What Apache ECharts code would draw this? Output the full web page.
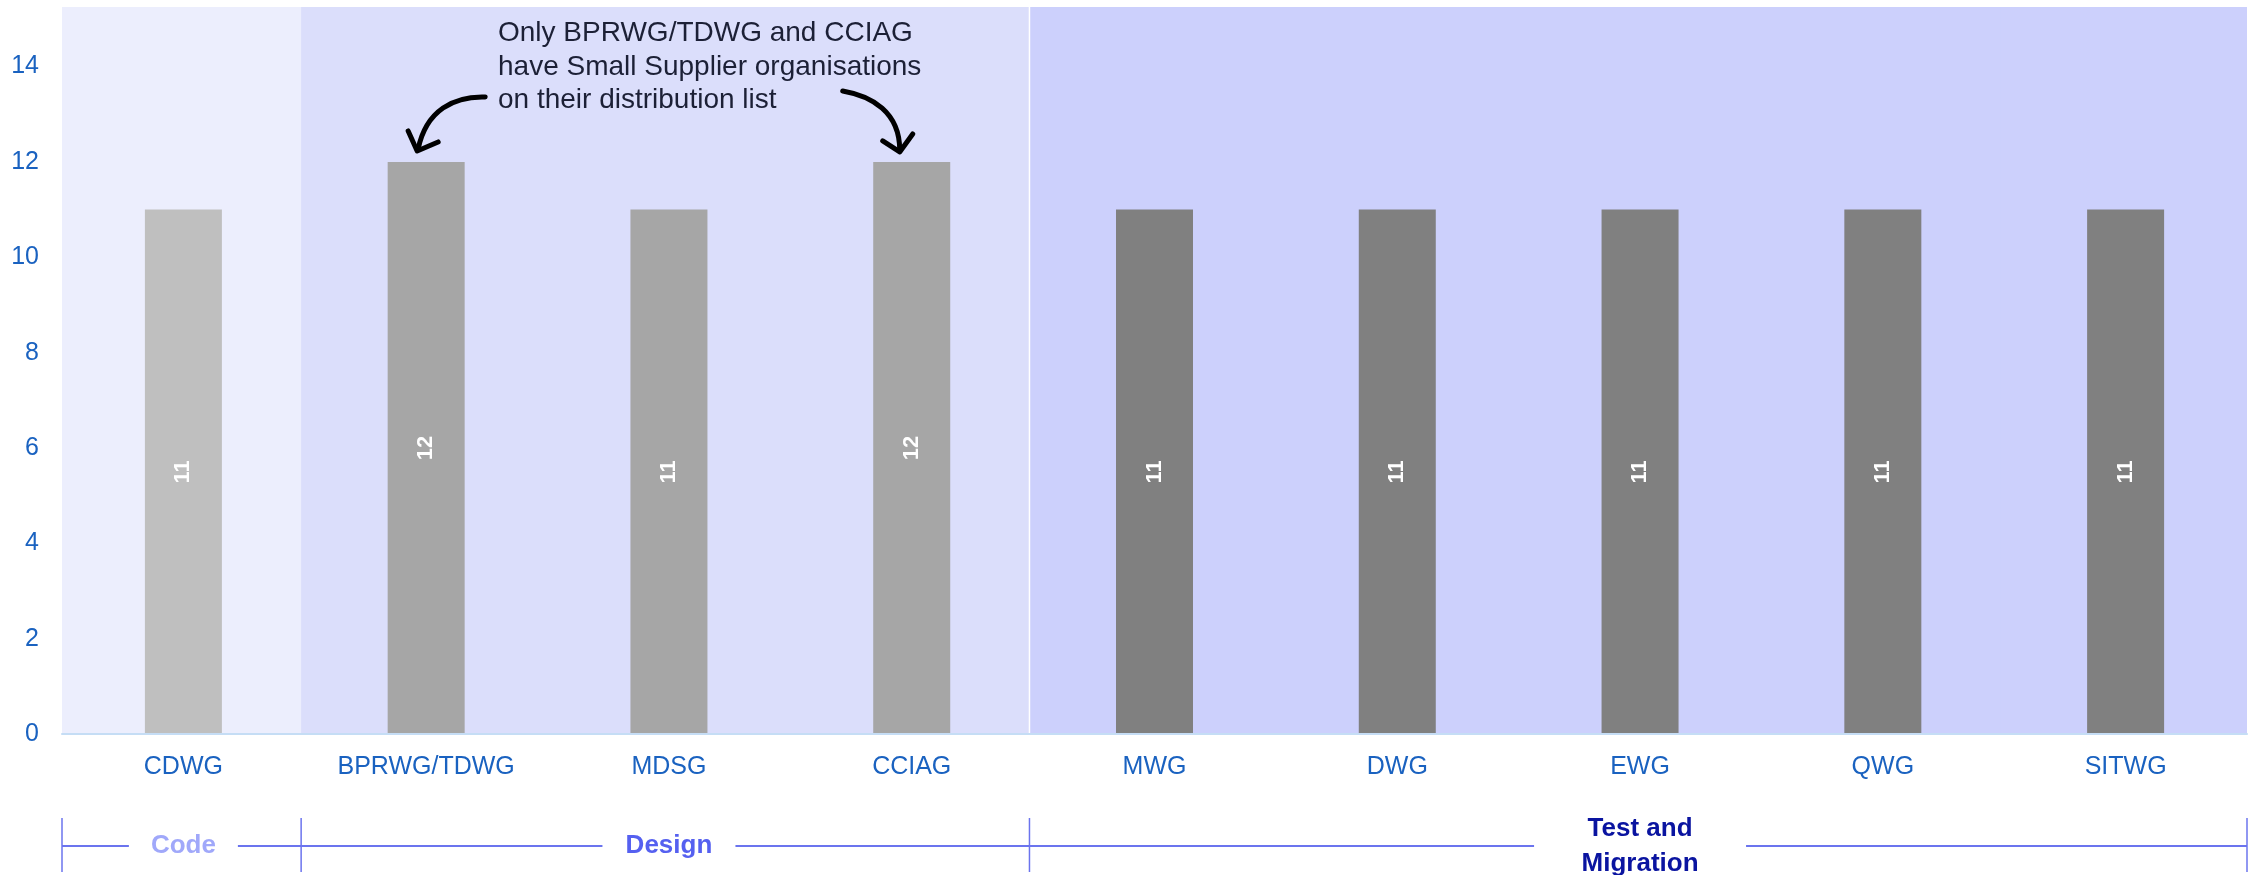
<!DOCTYPE html>
<html lang="en">
<head>
<meta charset="UTF-8">
<title>Working group distribution lists</title>
<style>
  html, body { margin: 0; padding: 0; background: #fff; }
  #main { width: 2252px; height: 875px; }
</style>
</head>
<body>
<div id="main"></div>
<script src="https://cdn.jsdelivr.net/npm/echarts@6/dist/echarts.min.js"></script>
<script>
// working groups and number of organisations on each distribution list
var groups = ['CDWG', 'BPRWG/TDWG', 'MDSG', 'CCIAG', 'MWG', 'DWG', 'EWG', 'QWG', 'SITWG'];
var counts = [11, 12, 11, 12, 11, 11, 11, 11, 11];
// phase each group belongs to
var phaseOf = [0, 1, 1, 1, 2, 2, 2, 2, 2];
var phases = ['Code', 'Design', 'Test and\nMigration'];
var yMax = 15.25;
var note = 'Only BPRWG/TDWG and CCIAG\nhave Small Supplier organisations\non their distribution list';
var notedGroups = ['BPRWG/TDWG', 'CCIAG'];

var barColors = ['#bfbfbf', '#a6a6a6', '#808080'];
var bandColors = ['#eceefd', '#dbdefb', '#ccd0fc'];
var phaseColors = ['#a0a8fa', '#5560f0', '#0a14a0'];
var gapWidths = [109, 133, 212];
var font = "'Liberation Sans', Arial, sans-serif";
var blue = '#1a62c0';
var bracketColor = '#6b74ee';
var bandOverlap = 0.015; // bands are drawn 3% wider so no seams show

var chart = echarts.init(document.getElementById('main'));

var option = {
  animation: false,
  backgroundColor: '#fff',
  textStyle: { fontFamily: font },
  grid: { left: 62, right: 5, top: 7, bottom: 141, outerBoundsMode: 'none' },
  xAxis: [
    {
      type: 'category',
      data: groups,
      axisLine: { lineStyle: { color: '#c5ddf5', width: 2 } },
      axisTick: { show: false },
      axisLabel: { color: blue, fontSize: 25, margin: 21, fontFamily: font },
      z: 5
    },
    { type: 'category', data: groups, show: false }
  ],
  yAxis: [
    {
      type: 'value',
      min: 0,
      max: yMax,
      interval: 2,
      splitLine: { show: false },
      axisLine: { show: false },
      axisTick: { show: false },
      axisLabel: { color: blue, fontSize: 25, margin: 23, showMaxLabel: false, fontFamily: font }
    },
    { type: 'value', min: 0, max: yMax, show: false }
  ],
  series: [
    {
      // phase background bands
      type: 'bar',
      xAxisIndex: 1,
      yAxisIndex: 1,
      barWidth: (100 + bandOverlap * 200) + '%',
      silent: true,
      clip: true,
      z: 1,
      data: groups.map(function (g, i) {
        return { value: yMax, itemStyle: { color: bandColors[phaseOf[i]] } };
      })
    },
    {
      type: 'bar',
      barWidth: 77,
      z: 3,
      data: counts.map(function (v, i) {
        return { value: v, itemStyle: { color: barColors[phaseOf[i]] } };
      }),
      label: {
        show: true,
        position: 'inside',
        rotate: 90,
        color: '#fff',
        fontWeight: 'bold',
        fontSize: 22,
        fontFamily: font
      }
    }
  ]
};
chart.setOption(option);

function px(i, v) {
  return chart.convertToPixel({ xAxisIndex: 0, yAxisIndex: 0 }, [i, v]);
}

var elements = [];
var bw = px(1, 0)[0] - px(0, 0)[0];
var axisY = px(0, 0)[1];
var topY = px(0, yMax)[1];
var lineY = axisY + 112;

// phase brackets under the axis
var starts = [];
phaseOf.forEach(function (p, i) { if (i === 0 || phaseOf[i - 1] !== p) starts.push(i); });
var edges = starts.map(function (s, k) {
  return px(s, 0)[0] - bw / 2 - (k > 0 ? bw * bandOverlap : 0);
});
edges.push(px(groups.length - 1, 0)[0] + bw / 2);

starts.forEach(function (s, k) {
  var left = edges[k];
  var right = edges[k + 1];
  var mid = (px(s, 0)[0] + px(k + 1 < starts.length ? starts[k + 1] - 1 : groups.length - 1, 0)[0]) / 2;
  var line = { stroke: bracketColor, lineWidth: 2 };
  elements.push({ type: 'line', shape: { x1: left, y1: lineY, x2: mid - gapWidths[k] / 2, y2: lineY }, style: line });
  elements.push({ type: 'line', shape: { x1: mid + gapWidths[k] / 2, y1: lineY, x2: right, y2: lineY }, style: line });
  elements.push({ type: 'line', shape: { x1: left, y1: axisY + 84, x2: left, y2: axisY + 138 }, style: { stroke: bracketColor, lineWidth: 1.5 } });
  if (k === starts.length - 1) {
    elements.push({ type: 'line', shape: { x1: right, y1: axisY + 84, x2: right, y2: axisY + 138 }, style: { stroke: bracketColor, lineWidth: 1.5 } });
    // white separator between the last two bands
    elements.push({ type: 'line', z: 2, shape: { x1: left, y1: topY, x2: left, y2: axisY - 1 }, style: { stroke: '#fff', lineWidth: 1.5 } });
  }
  elements.push({
    type: 'text',
    x: mid,
    y: lineY,
    style: {
      text: phases[k],
      fill: phaseColors[k],
      font: 'bold 26px ' + font,
      lineHeight: 35,
      align: 'center',
      verticalAlign: 'middle'
    }
  });
});

// annotation text
elements.push({
  type: 'text',
  x: 498,
  y: 17,
  z: 10,
  style: {
    text: note,
    fill: '#1c2036',
    font: '28px ' + font,
    lineHeight: 33.5,
    align: 'left',
    verticalAlign: 'top'
  }
});

// arrows to the two noted bars
var arrowStyle = { stroke: '#000', lineWidth: 5, lineCap: 'round', lineJoin: 'round', fill: null };
var li = groups.indexOf(notedGroups[0]);
var left = px(li, counts[li]);
elements.push({
  type: 'bezierCurve', z: 10,
  shape: { x1: left[0] + 59, y1: left[1] - 65, cpx1: left[0] + 28, cpy1: left[1] - 66, cpx2: left[0] + 0, cpy2: left[1] - 52, x2: left[0] - 8, y2: left[1] - 13 },
  style: arrowStyle
});
elements.push({
  type: 'polyline', z: 10,
  shape: { points: [[left[0] - 18, left[1] - 31], [left[0] - 9, left[1] - 11], [left[0] + 12, left[1] - 20]] },
  style: arrowStyle
});
var ri = groups.indexOf(notedGroups[1]);
var right = px(ri, counts[ri]);
elements.push({
  type: 'bezierCurve', z: 10,
  shape: { x1: right[0] - 69, y1: right[1] - 71, cpx1: right[0] - 40, cpy1: right[1] - 66, cpx2: right[0] - 12, cpy2: right[1] - 50, x2: right[0] - 12, y2: right[1] - 12 },
  style: arrowStyle
});
elements.push({
  type: 'polyline', z: 10,
  shape: { points: [[right[0] - 29, right[1] - 21], [right[0] - 12, right[1] - 10], [right[0] + 1, right[1] - 28]] },
  style: arrowStyle
});

chart.setOption({ graphic: { elements: elements } });
</script>
</body>
</html>
